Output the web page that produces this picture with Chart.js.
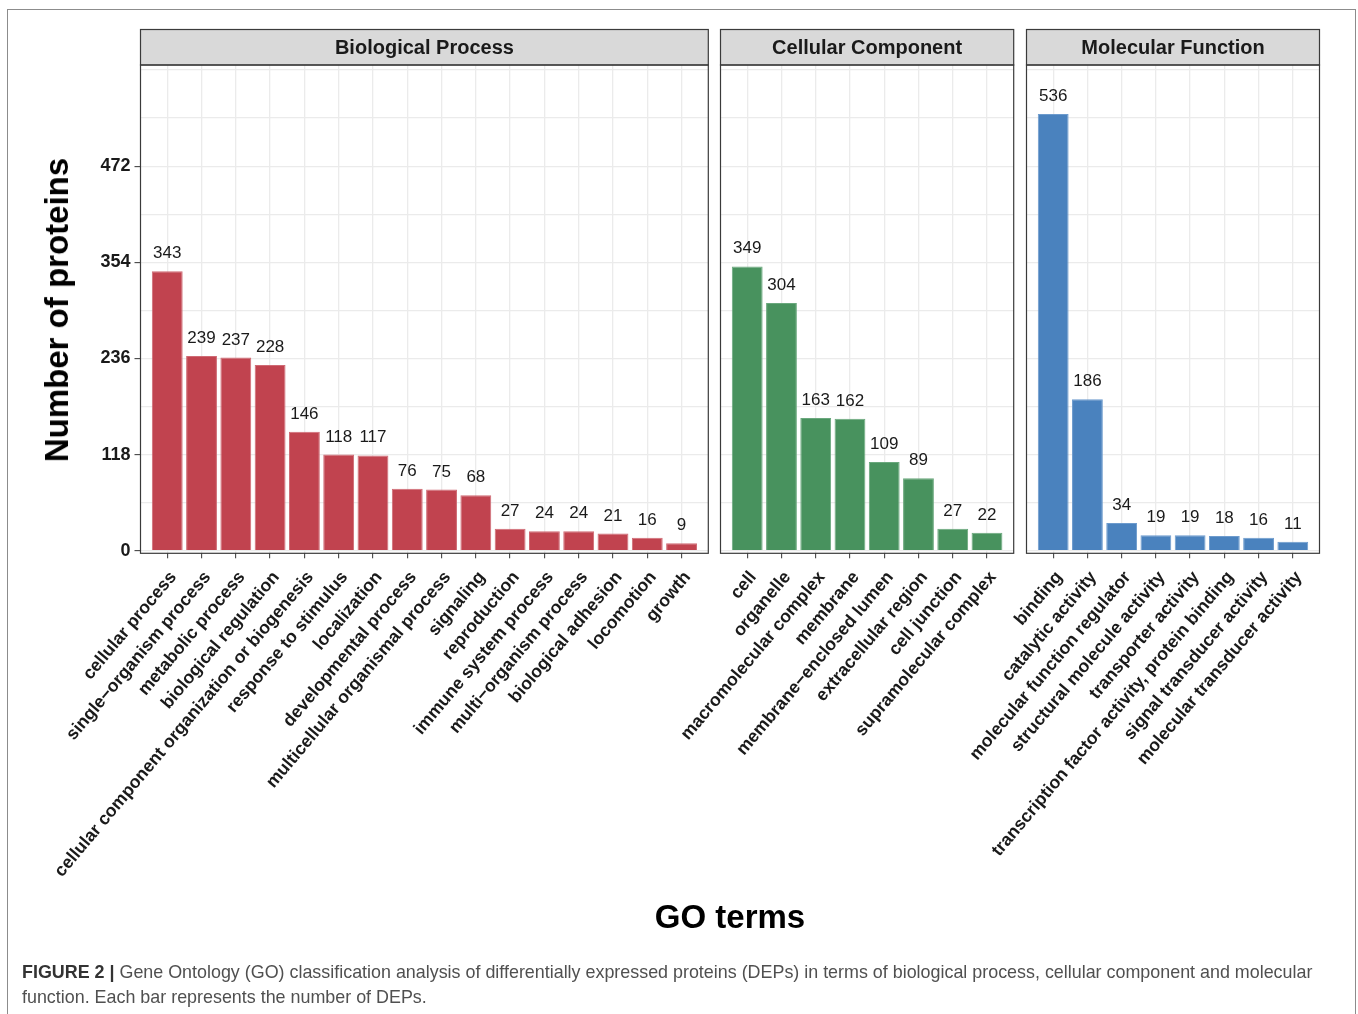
<!DOCTYPE html>
<html><head><meta charset="utf-8">
<script src="https://cdn.jsdelivr.net/npm/chart.js@4.4.1/dist/chart.umd.min.js"></script>
<style>
html,body{margin:0;padding:0;background:#fff;width:1358px;height:1014px;overflow:hidden;font-family:"Liberation Sans",Arial,Helvetica,sans-serif}
canvas{position:absolute;left:0;top:0}
#frame{position:absolute;left:7px;top:9px;width:1347px;height:1100px;border:1.5px solid #8c8c8c}
#ytitle{position:absolute;left:57px;top:310px;transform:translate(-50%,-50%) rotate(-90deg);white-space:nowrap;font-weight:bold;font-size:33px;color:#000}
#xtitle{position:absolute;left:730px;top:917px;transform:translate(-50%,-50%);white-space:nowrap;font-weight:bold;font-size:33px;color:#000}
#caption{position:absolute;left:22px;top:960px;width:1330px;font-size:17.9px;line-height:25px;color:#505050;white-space:nowrap}
#caption b{color:#333}
</style></head><body>
<div id="frame"></div>
<canvas id="c1" width="1358" height="1014"></canvas>
<canvas id="c2" width="1358" height="1014"></canvas>
<canvas id="c3" width="1358" height="1014"></canvas>
<div id="ytitle">Number of proteins</div>
<div id="xtitle">GO terms</div>
<div id="caption"><b>FIGURE 2 |</b> Gene Ontology (GO) classification analysis of differentially expressed proteins (DEPs) in terms of biological process, cellular component and molecular<br>function. Each bar represents the number of DEPs.</div>
<script>
const bpLabels = ['cellular process','single\u2212organism process','metabolic process','biological regulation','cellular component organization or biogenesis','response to stimulus','localization','developmental process','multicellular organismal process','signaling','reproduction','immune system process','multi\u2212organism process','biological adhesion','locomotion','growth'];
const bpValues = [343,239,237,228,146,118,117,76,75,68,27,24,24,21,16,9];
const ccLabels = ['cell','organelle','macromolecular complex','membrane','membrane\u2212enclosed lumen','extracellular region','cell junction','supramolecular complex'];
const ccValues = [349,304,163,162,109,89,27,22];
const mfLabels = ['binding','catalytic activity','molecular function regulator','structural molecule activity','transporter activity','transcription factor activity, protein binding','signal transducer activity','molecular transducer activity'];
const mfValues = [536,186,34,19,19,18,16,11];
const panelTitles = ['Biological Process','Cellular Component','Molecular Function'];
const yTickLabels = [0,118,236,354,472];
const yGridLines = [0,59,118,177,236,295,354,413,472,531,590];

const FONT = '"Liberation Sans", Arial, Helvetica, sans-serif';
Chart.defaults.font.family = FONT;
const W = 1358, H = 1014;
const PT = 65, PB = 553.3, XH = 400;
const STRIP_TOP = 29.5;
const EXP = 0.78;
const YMIN = -3.2, YMAX = 596.2;

const panels = [
  {id:'c1', title:panelTitles[0], labels:bpLabels, values:bpValues, color:'#c1434f', edge:'#cf6a74', left:140.5, right:708.3, showY:true},
  {id:'c2', title:panelTitles[1], labels:ccLabels, values:ccValues, color:'#48925e', edge:'#6aa87d', left:720.5, right:1013.7, showY:false},
  {id:'c3', title:panelTitles[2], labels:mfLabels, values:mfValues, color:'#4a82be', edge:'#6d9bcd', left:1026.5, right:1319.5, showY:false}
];

function facetPlugin(p){
  return {
    id:'facet'+p.id,
    afterDatasetsDraw(chart){
      const ctx = chart.ctx;
      const meta = chart.getDatasetMeta(0);
      ctx.save();
      ctx.fillStyle = '#1a1a1a';
      ctx.font = '17px ' + FONT;
      ctx.textAlign = 'center';
      ctx.textBaseline = 'alphabetic';
      meta.data.forEach((bar, i) => {
        ctx.fillText(String(p.values[i]), bar.x, bar.y - 13);
      });
      ctx.restore();
    },
    afterDraw(chart){
      const ctx = chart.ctx;
      const a = chart.chartArea;
      ctx.save();
      ctx.fillStyle = '#d9d9d9';
      ctx.fillRect(a.left, STRIP_TOP, a.right - a.left, a.top - STRIP_TOP);
      ctx.strokeStyle = '#3a3a3a';
      ctx.lineWidth = 1.2;
      ctx.strokeRect(a.left, STRIP_TOP, a.right - a.left, a.top - STRIP_TOP);
      ctx.fillStyle = '#1a1a1a';
      ctx.font = 'bold 20px ' + FONT;
      ctx.textAlign = 'center';
      ctx.textBaseline = 'middle';
      ctx.fillText(p.title, (a.left + a.right) / 2, (STRIP_TOP + a.top) / 2 + 1);
      ctx.strokeRect(a.left, a.top, a.right - a.left, a.bottom - a.top);
      ctx.restore();
    }
  };
}

panels.forEach(p => {
  const ctx = document.getElementById(p.id).getContext('2d');
  new Chart(ctx, {
    type:'bar',
    data:{
      datasets:[{
        data: p.values.map((v, i) => ({x:i, y:v})),
        backgroundColor: p.color,
        borderColor: p.edge,
        borderWidth: 1,
        barPercentage: 0.9,
        categoryPercentage: 1
      }]
    },
    options:{
      responsive:false, animation:false, devicePixelRatio:1,
      events: [],
      layout:{padding:{left: p.showY ? 0 : p.left, right: W - p.right, top: PT, bottom: H - PB - XH}},
      plugins:{legend:{display:false}, tooltip:{enabled:false}, title:{display:false}},
      scales:{
        x:{
          type:'linear', min:-EXP, max:p.labels.length - 1 + EXP, offset:false,
          afterBuildTicks: s => { s.ticks = p.labels.map((_, i) => ({value:i})); },
          afterFit: s => { s.height = XH; s.paddingLeft = 0; s.paddingRight = 0; },
          grid:{offset:false, color:'#ebebeb', lineWidth:1.3, tickLength:5, tickColor:'#333', tickWidth:1},
          border:{display:false},
          ticks:{autoSkip:false, minRotation:50, maxRotation:50, padding:9, labelOffset:6,
                 color:'#1a1a1a', font:{size:17.7, weight:'bold'},
                 callback: v => p.labels[v]}
        },
        y:{
          type:'linear', min:YMIN, max:YMAX,
          afterBuildTicks: s => { s.ticks = yGridLines.map(v => ({value:v})); },
          afterFit: s => { s.width = p.showY ? p.left : 0; s.paddingTop = 0; s.paddingBottom = 0; },
          grid:{color:'#ebebeb', lineWidth:1.3, drawTicks:p.showY, tickLength:6, tickWidth:1,
                tickColor: c => (c.tick && yTickLabels.includes(c.tick.value)) ? '#333' : 'rgba(0,0,0,0)'},
          border:{display:false},
          ticks:{display:p.showY, padding:4, color:'#1a1a1a', font:{size:18, weight:'bold'},
                 callback: v => yTickLabels.includes(v) ? String(v) : ''}
        }
      }
    },
    plugins:[facetPlugin(p)]
  });
});
</script>
</body></html>
